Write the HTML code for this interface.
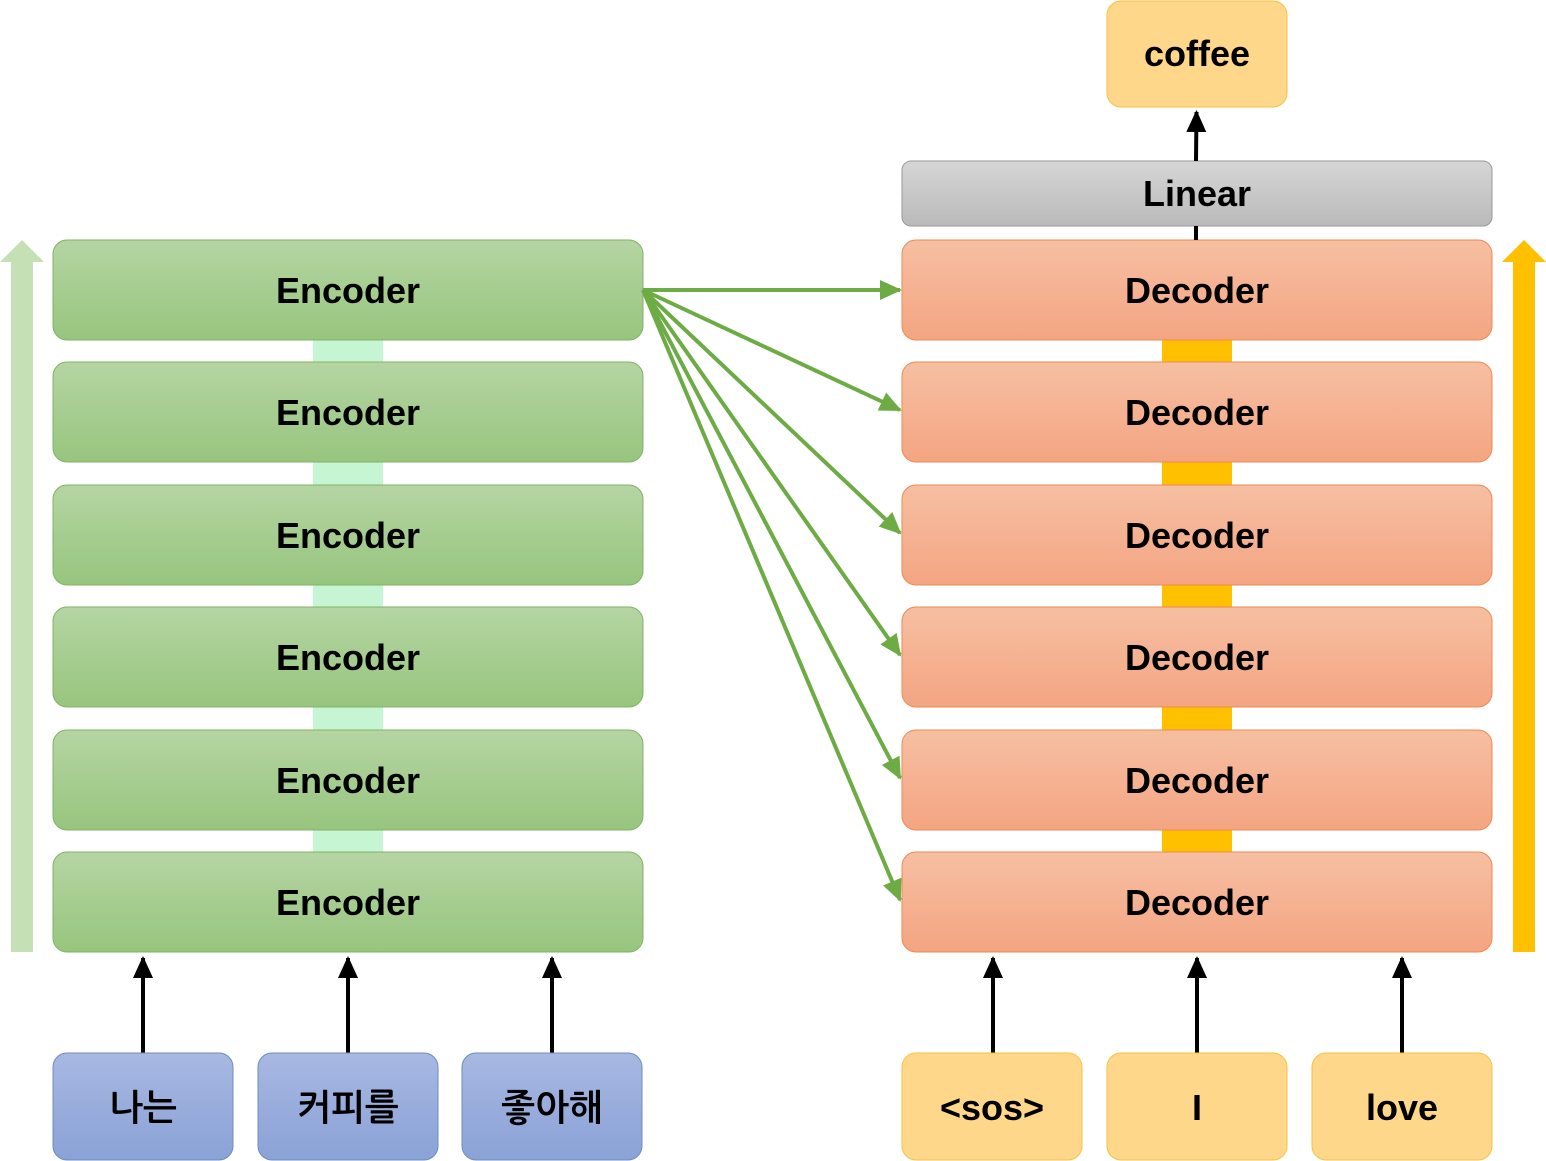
<!DOCTYPE html>
<html><head><meta charset="utf-8"><style>body{margin:0;background:#fff}svg{display:block}</style></head><body>
<svg width="1546" height="1161" viewBox="0 0 1546 1161" xmlns="http://www.w3.org/2000/svg" font-family="'Liberation Sans','NanumGothic','Noto Sans CJK KR',sans-serif" font-weight="bold">
<defs>
<linearGradient id="g" x1="0" y1="0" x2="0" y2="1"><stop offset="0" stop-color="#b5d5a3"/><stop offset="1" stop-color="#97c57e"/></linearGradient>
<linearGradient id="o" x1="0" y1="0" x2="0" y2="1"><stop offset="0" stop-color="#f6bfa2"/><stop offset="1" stop-color="#f4a582"/></linearGradient>
<linearGradient id="gr" x1="0" y1="0" x2="0" y2="1"><stop offset="0" stop-color="#d6d6d6"/><stop offset="1" stop-color="#bababa"/></linearGradient>
<linearGradient id="b" x1="0" y1="0" x2="0" y2="1"><stop offset="0" stop-color="#a8b8e2"/><stop offset="1" stop-color="#8aa2d6"/></linearGradient>
<marker id="ga" markerWidth="6" markerHeight="6" refX="5" refY="3" orient="auto" markerUnits="strokeWidth"><path d="M0,0.5 L5.5,3 L0,5.5 Z" fill="#6dab45"/></marker>
<marker id="ka" markerWidth="6" markerHeight="6" refX="5" refY="3" orient="auto" markerUnits="strokeWidth"><path d="M0,0.5 L5.5,3 L0,5.5 Z" fill="#000"/></marker>
</defs>
<!-- side arrows -->
<polygon points="11,952 11,262 0,262 22,240 44,262 33,262 33,952" fill="#c5e0b4"/>
<polygon points="1513,952 1513,262 1502,262 1524,240 1546,262 1535,262 1535,952" fill="#ffc000"/>
<!-- connectors -->
<g fill="#c6f5d4"><rect x="313" y="340" width="70" height="22"/><rect x="313" y="462" width="70" height="23"/><rect x="313" y="585" width="70" height="22"/><rect x="313" y="707" width="70" height="23"/><rect x="313" y="830" width="70" height="22"/></g>
<g fill="#ffc000"><rect x="1162" y="340" width="70" height="22"/><rect x="1162" y="462" width="70" height="23"/><rect x="1162" y="585" width="70" height="22"/><rect x="1162" y="707" width="70" height="23"/><rect x="1162" y="830" width="70" height="22"/></g>
<g font-size="36" text-anchor="middle" fill="#000">
<g stroke="#82b366" stroke-width="1">
<rect x="53" y="240" width="590" height="100" rx="14" fill="url(#g)"/>
<rect x="53" y="362" width="590" height="100" rx="14" fill="url(#g)"/>
<rect x="53" y="485" width="590" height="100" rx="14" fill="url(#g)"/>
<rect x="53" y="607" width="590" height="100" rx="14" fill="url(#g)"/>
<rect x="53" y="730" width="590" height="100" rx="14" fill="url(#g)"/>
<rect x="53" y="852" width="590" height="100" rx="14" fill="url(#g)"/>
</g>
<g stroke="#ee8a4f" stroke-width="1">
<rect x="902" y="240" width="590" height="100" rx="14" fill="url(#o)"/>
<rect x="902" y="362" width="590" height="100" rx="14" fill="url(#o)"/>
<rect x="902" y="485" width="590" height="100" rx="14" fill="url(#o)"/>
<rect x="902" y="607" width="590" height="100" rx="14" fill="url(#o)"/>
<rect x="902" y="730" width="590" height="100" rx="14" fill="url(#o)"/>
<rect x="902" y="852" width="590" height="100" rx="14" fill="url(#o)"/>
</g>
<text x="348" y="303">Encoder</text><text x="348" y="425">Encoder</text><text x="348" y="548">Encoder</text><text x="348" y="670">Encoder</text><text x="348" y="793">Encoder</text><text x="348" y="915">Encoder</text>
<text x="1197" y="303">Decoder</text><text x="1197" y="425">Decoder</text><text x="1197" y="548">Decoder</text><text x="1197" y="670">Decoder</text><text x="1197" y="793">Decoder</text><text x="1197" y="915">Decoder</text>
<rect x="902" y="161" width="590" height="65" rx="9" fill="url(#gr)" stroke="#999" stroke-width="1"/>
<text x="1197" y="206">Linear</text>
<line x1="1196" y1="226" x2="1196" y2="240" stroke="#000" stroke-width="4"/>
<line x1="1196" y1="161" x2="1196.5" y2="112" stroke="#000" stroke-width="4" marker-end="url(#ka)"/>
<rect x="1107" y="1" width="180" height="106" rx="14" fill="#ffd78a" stroke="#f5c242"/>
<text x="1197" y="66">coffee</text>
<g stroke="#000" stroke-width="4" marker-end="url(#ka)">
<line x1="143" y1="1053" x2="143" y2="958"/><line x1="348" y1="1053" x2="348" y2="958"/><line x1="552" y1="1053" x2="552" y2="958"/>
<line x1="993" y1="1053" x2="993" y2="958"/><line x1="1197" y1="1053" x2="1197" y2="958"/><line x1="1402" y1="1053" x2="1402" y2="958"/>
</g>
<g stroke="#6c8ebf" stroke-width="1">
<rect x="53" y="1053" width="180" height="107" rx="14" fill="url(#b)"/>
<rect x="258" y="1053" width="180" height="107" rx="14" fill="url(#b)"/>
<rect x="462" y="1053" width="180" height="107" rx="14" fill="url(#b)"/>
</g>
<g stroke="#f5c242" stroke-width="1" fill="#ffd78a">
<rect x="902" y="1053" width="180" height="107" rx="14"/>
<rect x="1107" y="1053" width="180" height="107" rx="14"/>
<rect x="1312" y="1053" width="180" height="107" rx="14"/>
</g>
<text x="143" y="1120">나는</text><text x="348" y="1120">커피를</text><text x="552" y="1120">좋아해</text>
<text x="992" y="1120">&lt;sos&gt;</text><text x="1197" y="1120">I</text><text x="1402" y="1120">love</text>
</g>
<g stroke="#6dab45" stroke-width="4" fill="none" marker-end="url(#ga)">
<line x1="643" y1="290" x2="900" y2="290"/>
<line x1="643" y1="290" x2="900" y2="410"/>
<line x1="643" y1="290" x2="900" y2="533"/>
<line x1="643" y1="290" x2="900" y2="655"/>
<line x1="643" y1="290" x2="900" y2="778"/>
<line x1="643" y1="290" x2="900" y2="900"/>
</g>
</svg>
</body></html>
